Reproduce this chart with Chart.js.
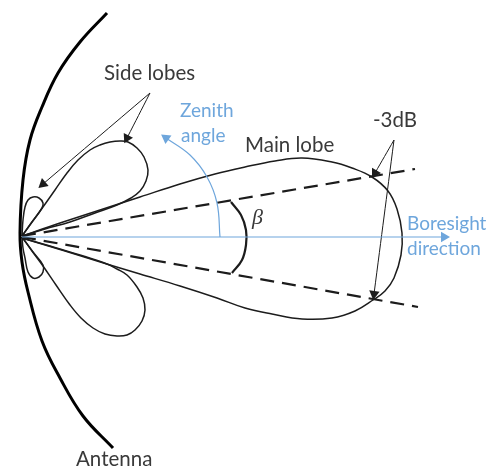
<!DOCTYPE html>
<html>
<head>
<meta charset="utf-8">
<style>
  html, body { margin: 0; padding: 0; background: #fff; }
  canvas { display: block; }
</style>
<script src="https://cdn.jsdelivr.net/npm/chart.js@4"></script>
</head>
<body>
<canvas id="lobeChart" width="489" height="468"></canvas>
<script>
// outlines, [x, y]
var antenna = [[107,13],[80,42],[58,73],[42,107],[30,140],[23,180],[20,233],[22,262],[28,292],[42,341],[60,378],[83,416],[113,448]];
var mainLobe = [[22,236],[60,223],[100,210],[140,197],[180,184],[215,174],[245,167],[275,161],[302,158],[332,162],[352,168],[372,177],[388,191],[397,209],[402,233],[401,255],[394,278],[385,291],[373,300],[355,311],[332,318],[302,319],[272,314],[245,308],[217,298],[180,286],[140,274],[110,265],[65,251],[22,238]];
var sideLobeUp = [[22,236],[32,222],[43,207],[55,190],[67,173],[78,160],[90,150],[100,145],[110,142],[120,141],[128,142],[137,148],[144,157],[148,170],[146,181],[140,191],[131,198],[117,205],[95,213],[70,222],[45,229],[22,236]];
var sideLobeDown = [[22,237],[32,251],[43,266],[56,285],[70,305],[81,318],[93,328],[105,334],[117,336],[127,335],[135,330],[142,321],[145,310],[143,298],[137,287],[127,275],[117,269],[107,264],[80,255],[50,246],[22,238]];
var backLobeUp = [[22,236],[23,220],[25,207],[28,200],[33,197],[39,198],[43,203],[42,208],[32,222],[22,236]];
var backLobeDown = [[22,237],[23,248],[25,258],[28,272],[33,278],[39,277],[43,272],[43,265],[33,252],[22,237]];
var beamEdgeUp = [[22,236],[415,169]];
var beamEdgeDown = [[22,237],[418,307]];
var betaArc = [[231,202],[241,215],[246,230],[246,245],[242,260],[232,273]];
var boresight = [[22,237],[444,237]];
var zenithArc = [[220,237],[217,203],[207,177],[190,155],[166,138]];
var sidePointers = [[[150,93],[43,184]],[[150,93],[127,138]]];
var dbPointers = [[[394,140],[375,173]],[[394,140],[374,294]]];

var labelTexts = ['Side lobes', 'Main lobe', '-3dB', 'Antenna'];
var labelX = [104, 245, 373, 76];
var labelY = [80, 152, 127, 466];
var blueTexts = ['Zenith', 'angle', 'Boresight', 'direction'];
var blueX = [180, 181, 407, 407];
var blueY = [117, 142, 230, 255];

var INK = '#1c1c1c';
var BLUE = '#6ea6dc';

function pts(list) {
    return list.map(function (p) { return { x: p[0], y: p[1] }; });
}

function curve(list, width, color, extra) {
    return Object.assign({
        data: pts(list),
        showLine: true,
        fill: false,
        tension: 0.4,
        borderColor: color,
        borderWidth: width,
        pointRadius: 0
    }, extra || {});
}

// straight or curved line with a triangle marker on its last point
function arrow(list, width, color, size) {
    var a = list[list.length - 2], b = list[list.length - 1];
    var angle = Math.atan2(b[1] - a[1], b[0] - a[0]) * 180 / Math.PI + 90;
    return curve(list, width, color, {
        pointStyle: 'triangle',
        pointRadius: list.map(function (p, i) { return i === list.length - 1 ? size : 0; }),
        pointRotation: angle,
        pointBackgroundColor: color,
        pointBorderColor: color,
        pointBorderWidth: 0
    });
}

var textPlugin = {
    id: 'diagramText',
    afterDatasetsDraw: function (chart) {
        var c = chart.ctx, sx = chart.scales.x, sy = chart.scales.y;
        c.save();
        c.textAlign = 'left';
        c.textBaseline = 'alphabetic';
        c.font = '20.5px Lato';
        c.fillStyle = '#3a3a3a';
        labelTexts.forEach(function (t, i) {
            c.fillText(t, sx.getPixelForValue(labelX[i]), sy.getPixelForValue(labelY[i]));
        });
        c.font = '19px Lato';
        c.fillStyle = BLUE;
        blueTexts.forEach(function (t, i) {
            c.fillText(t, sx.getPixelForValue(blueX[i]), sy.getPixelForValue(blueY[i]));
        });
        c.font = 'italic 22px "Liberation Serif"';
        c.fillStyle = '#3a3a3a';
        c.fillText('\u03b2', sx.getPixelForValue(252), sy.getPixelForValue(224));
        c.restore();
    }
};

var datasets = [
    arrow(boresight, 1.2, BLUE, 6),
    arrow(zenithArc, 1.2, BLUE, 6),
    curve(antenna, 3, '#000'),
    curve(mainLobe, 1.5, INK),
    curve(sideLobeUp, 1.5, INK),
    curve(sideLobeDown, 1.5, INK),
    curve(backLobeUp, 1.5, INK),
    curve(backLobeDown, 1.5, INK),
    curve(beamEdgeUp, 2.2, INK, { tension: 0, borderDash: [14, 8] }),
    curve(beamEdgeDown, 2.2, INK, { tension: 0, borderDash: [14, 8] }),
    curve(betaArc, 2.2, INK)
];
sidePointers.concat(dbPointers).forEach(function (p) {
    datasets.push(arrow(p, 1, INK, 6));
});

new Chart(document.getElementById('lobeChart'), {
    type: 'scatter',
    data: { datasets: datasets },
    plugins: [textPlugin],
    options: {
        responsive: false,
        animation: false,
        layout: { padding: 0, autoPadding: false },
        plugins: { legend: { display: false }, tooltip: { enabled: false } },
        scales: {
            x: { type: 'linear', display: false, min: 0, max: 489 },
            y: { type: 'linear', display: false, min: 0, max: 468, reverse: true }
        }
    }
});
</script>
</body>
</html>
